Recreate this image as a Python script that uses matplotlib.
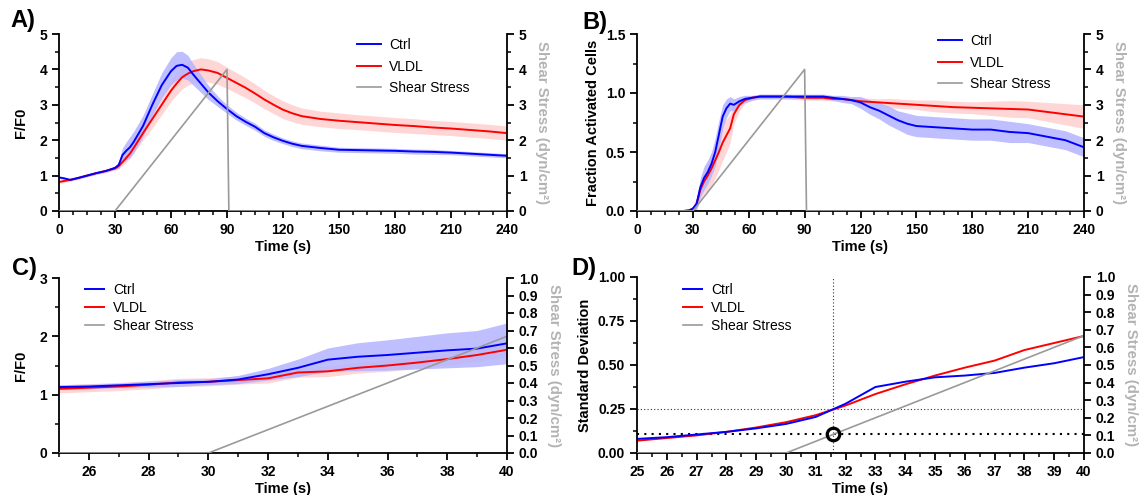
import matplotlib
matplotlib.use("Agg")
import matplotlib.pyplot as plt
import numpy as np
from matplotlib.ticker import MultipleLocator, FixedLocator, FormatStrFormatter

plt.rcParams['font.family'] = ['Liberation Sans', 'DejaVu Sans']
plt.rcParams['font.weight'] = 'bold'
plt.rcParams['axes.labelweight'] = 'bold'

# ---------------- Data ----------------
# Panel A: F/F0 over time
A_time = [0, 3, 6, 10, 15, 20, 25, 30, 32, 34, 36, 38, 40, 45, 50, 55, 60, 63, 66, 69, 72, 76,
          80, 85, 90, 95, 100, 105, 110, 115, 120, 125, 130, 140, 150, 160, 170, 180, 190, 200,
          210, 220, 230, 240]
A_ctrl = [0.95, 0.92, 0.88, 0.93, 1.00, 1.07, 1.13, 1.22, 1.30, 1.58, 1.70, 1.80, 1.95, 2.40,
          3.00, 3.55, 3.95, 4.10, 4.13, 4.05, 3.85, 3.60, 3.35, 3.10, 2.88, 2.68, 2.52, 2.38,
          2.20, 2.08, 1.98, 1.90, 1.84, 1.78, 1.73, 1.72, 1.71, 1.70, 1.68, 1.67, 1.65, 1.62,
          1.59, 1.56]
A_ctrl_err = [0.03, 0.03, 0.03, 0.03, 0.03, 0.03, 0.03, 0.04, 0.10, 0.20, 0.25, 0.30, 0.30,
              0.30, 0.30, 0.35, 0.38, 0.40, 0.38, 0.35, 0.30, 0.25, 0.20, 0.15, 0.12, 0.11,
              0.10, 0.10, 0.09, 0.09, 0.08, 0.08, 0.08, 0.08, 0.07, 0.07, 0.07, 0.07, 0.07,
              0.07, 0.06, 0.06, 0.06, 0.06]
A_vldl = [0.82, 0.85, 0.88, 0.93, 1.00, 1.07, 1.13, 1.20, 1.27, 1.38, 1.50, 1.62, 1.78, 2.20,
          2.60, 3.00, 3.40, 3.60, 3.78, 3.88, 3.95, 4.00, 3.97, 3.90, 3.76, 3.62, 3.48, 3.32,
          3.15, 3.00, 2.86, 2.76, 2.68, 2.60, 2.55, 2.51, 2.47, 2.43, 2.40, 2.36, 2.33, 2.29,
          2.25, 2.20]
A_vldl_err = [0.04, 0.04, 0.04, 0.04, 0.04, 0.04, 0.05, 0.05, 0.07, 0.10, 0.12, 0.13, 0.15,
              0.20, 0.25, 0.28, 0.30, 0.32, 0.33, 0.33, 0.33, 0.33, 0.33, 0.32, 0.30, 0.29,
              0.28, 0.27, 0.26, 0.25, 0.25, 0.24, 0.23, 0.22, 0.22, 0.21, 0.21, 0.21, 0.21,
              0.20, 0.20, 0.20, 0.20, 0.20]

# Panel B: fraction of activated cells
B_time = [0, 10, 20, 25, 28, 30, 32, 34, 36, 38, 40, 42, 44, 46, 48, 50, 52, 55, 58, 62, 66,
          70, 80, 90, 100, 105, 110, 115, 120, 125, 130, 135, 140, 145, 150, 160, 170, 180,
          190, 200, 210, 220, 230, 240]
B_ctrl = [0, 0, 0, 0, 0.005, 0.02, 0.06, 0.20, 0.28, 0.33, 0.40, 0.50, 0.65, 0.80, 0.87,
          0.91, 0.90, 0.93, 0.95, 0.96, 0.97, 0.97, 0.97, 0.97, 0.97, 0.96, 0.95, 0.94, 0.92,
          0.88, 0.85, 0.81, 0.77, 0.74, 0.72, 0.71, 0.70, 0.69, 0.69, 0.67, 0.66, 0.63, 0.60,
          0.54]
B_ctrl_err = [0, 0, 0, 0, 0.005, 0.02, 0.05, 0.08, 0.10, 0.10, 0.10, 0.12, 0.12, 0.10, 0.08,
              0.06, 0.05, 0.04, 0.03, 0.02, 0.02, 0.02, 0.02, 0.02, 0.02, 0.02, 0.03, 0.03,
              0.05, 0.06, 0.07, 0.08, 0.08, 0.09, 0.09, 0.09, 0.09, 0.09, 0.09, 0.09, 0.08,
              0.08, 0.08, 0.08]
B_vldl = [0, 0, 0, 0, 0.005, 0.02, 0.06, 0.18, 0.25, 0.30, 0.36, 0.43, 0.50, 0.58, 0.64,
          0.70, 0.82, 0.90, 0.94, 0.96, 0.97, 0.97, 0.97, 0.96, 0.96, 0.95, 0.95, 0.94, 0.93,
          0.925, 0.92, 0.915, 0.91, 0.905, 0.90, 0.89, 0.88, 0.875, 0.87, 0.865, 0.86, 0.84,
          0.82, 0.80]
B_vldl_err = [0, 0, 0, 0, 0.005, 0.02, 0.05, 0.08, 0.10, 0.12, 0.14, 0.15, 0.15, 0.15, 0.14,
              0.12, 0.08, 0.05, 0.03, 0.02, 0.02, 0.02, 0.02, 0.02, 0.02, 0.02, 0.02, 0.02,
              0.03, 0.03, 0.03, 0.04, 0.04, 0.04, 0.04, 0.05, 0.05, 0.05, 0.06, 0.07, 0.07,
              0.08, 0.09, 0.10]

# Panel C: zoom on F/F0 25-40 s
C_time = [25, 26, 27, 28, 29, 30, 31, 32, 33, 34, 35, 36, 37, 38, 39, 40]
C_ctrl = [1.13, 1.14, 1.16, 1.18, 1.20, 1.22, 1.26, 1.35, 1.46, 1.60, 1.65, 1.68, 1.72, 1.76,
          1.79, 1.88]
C_ctrl_err = [0.04, 0.04, 0.04, 0.05, 0.06, 0.05, 0.07, 0.10, 0.15, 0.20, 0.24, 0.26, 0.28,
              0.30, 0.31, 0.35]
C_vldl = [1.10, 1.12, 1.14, 1.17, 1.21, 1.22, 1.25, 1.28, 1.38, 1.40, 1.46, 1.50, 1.55, 1.61,
          1.68, 1.77]
C_vldl_err = [0.07, 0.07, 0.07, 0.07, 0.07, 0.07, 0.07, 0.08, 0.08, 0.09, 0.09, 0.10, 0.10,
              0.10, 0.11, 0.12]

# Panel D: standard deviation 25-40 s
D_time = [25, 26, 27, 28, 29, 30, 31, 32, 33, 34, 35, 36, 37, 38, 39, 40]
D_ctrl = [0.080, 0.090, 0.105, 0.120, 0.140, 0.165, 0.205, 0.280, 0.375, 0.405, 0.430, 0.440,
          0.455, 0.485, 0.510, 0.545]
D_vldl = [0.070, 0.085, 0.100, 0.120, 0.145, 0.175, 0.215, 0.270, 0.335, 0.390, 0.440, 0.485,
          0.525, 0.585, 0.625, 0.665]

# Shear stress protocol (dyn/cm^2)
shear_time = [0, 30, 90, 91, 240]
shear_val = [0, 0, 4, 0, 0]
shear_zoom_time = [25, 30, 40]
shear_zoom_val = [0, 0, 0.667]

# Threshold markers in panel D
D_cross_time = 31.58
D_cross_sd = 0.25
D_cross_shear = 0.107

labels = ['Ctrl', 'VLDL', 'Shear Stress']

# ---------------- Style ----------------
BLUE = '#0000ff'
RED = '#ff0000'
BLUE_BAND = '#b4b4ff'
RED_BAND = '#ffd6d6'
GRAY = '#9a9a9a'
GRAY_LABEL = '#b3b3b3'

fig = plt.figure(figsize=(11.43, 4.95), dpi=100)
W, H = 1143, 495


def make_axes(l, r, t, b):
    return fig.add_axes([l / W, (H - b) / H, (r - l) / W, (b - t) / H])


def style(ax, ax2):
    for a in (ax, ax2):
        a.spines['top'].set_visible(False)
        for s in a.spines.values():
            s.set_linewidth(1.3)
        a.tick_params(which='major', direction='out', length=5, width=1.3, labelsize=10)
        a.tick_params(which='minor', direction='out', length=3, width=1.1)
    ax.spines['right'].set_visible(False)
    ax2.spines['left'].set_visible(False)
    ax2.spines['bottom'].set_visible(False)
    ax2.set_ylabel('Shear Stress (dyn/cm²)', color=GRAY_LABEL, fontsize=10.8,
                   rotation=270, labelpad=16)


def add_legend(ax, handles, x, y, spacing, hlen):
    ax.legend(handles, labels, loc='upper left', bbox_to_anchor=(x / W, (H - y) / H),
              bbox_transform=fig.transFigure, frameon=False, borderaxespad=0, borderpad=0,
              handlelength=hlen, handletextpad=0.6, labelspacing=spacing,
              prop={'weight': 'normal', 'size': 10})


# ---- Panel A ----
axA = make_axes(59, 507, 34, 211)
axA2 = axA.twinx()
lo = np.array(A_vldl) - np.array(A_vldl_err)
hi = np.array(A_vldl) + np.array(A_vldl_err)
axA.fill_between(A_time, lo, hi, color=RED_BAND, lw=0)
lo = np.array(A_ctrl) - np.array(A_ctrl_err)
hi = np.array(A_ctrl) + np.array(A_ctrl_err)
axA.fill_between(A_time, lo, hi, color=BLUE_BAND, lw=0, alpha=0.85)
h2, = axA.plot(A_time, A_vldl, color=RED, lw=1.4)
h1, = axA.plot(A_time, A_ctrl, color=BLUE, lw=1.4)
h3, = axA2.plot(shear_time, shear_val, color=GRAY, lw=1.2)
axA.set_xlim(0, 240)
axA.set_ylim(0, 5)
axA2.set_ylim(0, 5)
axA.xaxis.set_major_locator(MultipleLocator(30))
axA.xaxis.set_minor_locator(MultipleLocator(7.5))
axA.yaxis.set_major_locator(MultipleLocator(1))
axA.yaxis.set_minor_locator(MultipleLocator(0.5))
axA2.yaxis.set_major_locator(MultipleLocator(1))
axA2.yaxis.set_minor_locator(MultipleLocator(0.5))
axA.set_xlabel('Time (s)', fontsize=10.5, labelpad=2)
axA.set_ylabel('F/F0', fontsize=10.5, labelpad=8)
style(axA, axA2)
add_legend(axA2, [h1, h2, h3], 357, 38, 0.55, 1.7)
fig.text(10 / W, (H - 21) / H, 'A)', fontsize=17, fontweight='bold', va='center')

# ---- Panel B ----
axB = make_axes(637, 1084, 34, 211)
axB2 = axB.twinx()
lo = np.array(B_vldl) - np.array(B_vldl_err)
hi = np.array(B_vldl) + np.array(B_vldl_err)
axB.fill_between(B_time, lo, hi, color=RED_BAND, lw=0)
lo = np.array(B_ctrl) - np.array(B_ctrl_err)
hi = np.array(B_ctrl) + np.array(B_ctrl_err)
axB.fill_between(B_time, lo, hi, color=BLUE_BAND, lw=0, alpha=0.85)
h2, = axB.plot(B_time, B_vldl, color=RED, lw=1.4)
h1, = axB.plot(B_time, B_ctrl, color=BLUE, lw=1.4)
h3, = axB2.plot(shear_time, shear_val, color=GRAY, lw=1.2)
axB.set_xlim(0, 240)
axB.set_ylim(0, 1.5)
axB2.set_ylim(0, 5)
axB.xaxis.set_major_locator(MultipleLocator(30))
axB.xaxis.set_minor_locator(MultipleLocator(7.5))
axB.yaxis.set_major_locator(MultipleLocator(0.5))
axB.yaxis.set_minor_locator(MultipleLocator(0.25))
axB.yaxis.set_major_formatter(FormatStrFormatter('%.1f'))
axB2.yaxis.set_major_locator(MultipleLocator(1))
axB2.yaxis.set_minor_locator(MultipleLocator(0.5))
axB.set_xlabel('Time (s)', fontsize=10.5, labelpad=2)
axB.set_ylabel('Fraction Activated Cells', fontsize=10.5)
style(axB, axB2)
add_legend(axB2, [h1, h2, h3], 938, 34, 0.55, 1.7)
fig.text(582 / W, (H - 23) / H, 'B)', fontsize=17, fontweight='bold', va='center')

# ---- Panel C ----
axC = make_axes(59, 507, 278, 453)
axC2 = axC.twinx()
lo = np.array(C_vldl) - np.array(C_vldl_err)
hi = np.array(C_vldl) + np.array(C_vldl_err)
axC.fill_between(C_time, lo, hi, color=RED_BAND, lw=0)
lo = np.array(C_ctrl) - np.array(C_ctrl_err)
hi = np.array(C_ctrl) + np.array(C_ctrl_err)
axC.fill_between(C_time, lo, hi, color=BLUE_BAND, lw=0, alpha=0.85)
h2, = axC.plot(C_time, C_vldl, color=RED, lw=1.4)
h1, = axC.plot(C_time, C_ctrl, color=BLUE, lw=1.4)
h3, = axC2.plot(shear_zoom_time, shear_zoom_val, color=GRAY, lw=1.2)
axC.set_xlim(25, 40)
axC.set_ylim(0, 3)
axC2.set_ylim(0, 1)
axC.xaxis.set_major_locator(FixedLocator(list(range(26, 41, 2))))
axC.xaxis.set_minor_locator(MultipleLocator(1))
axC.yaxis.set_major_locator(MultipleLocator(1))
axC.yaxis.set_minor_locator(MultipleLocator(0.5))
axC2.yaxis.set_major_locator(MultipleLocator(0.1))
axC2.yaxis.set_major_formatter(FormatStrFormatter('%.1f'))
axC.set_xlabel('Time (s)', fontsize=10.5, labelpad=2)
axC.set_ylabel('F/F0', fontsize=10.5, labelpad=8)
style(axC, axC2)
add_legend(axC2, [h1, h2, h3], 85, 283, 0.3, 1.4)
fig.text(12 / W, (H - 268) / H, 'C)', fontsize=17, fontweight='bold', va='center')

# ---- Panel D ----
axD = make_axes(637, 1084, 277, 453)
axD2 = axD.twinx()
axD.axhline(D_cross_sd, color='#333333', lw=0.8, ls=(0, (1, 2)))
axD.axhline(D_cross_shear, color='black', lw=1.5, ls=(0, (1, 2.5)))
axD.axvline(D_cross_time, color='#333333', lw=0.8, ls=(0, (1, 2)))
h2, = axD.plot(D_time, D_vldl, color=RED, lw=1.4)
h1, = axD.plot(D_time, D_ctrl, color=BLUE, lw=1.4)
h3, = axD2.plot(shear_zoom_time, shear_zoom_val, color=GRAY, lw=1.2)
axD2.plot([D_cross_time], [D_cross_shear], 'o', mfc='none', mec='black', ms=9, mew=2.3)
axD.set_xlim(25, 40)
axD.set_ylim(0, 1)
axD2.set_ylim(0, 1)
axD.xaxis.set_major_locator(MultipleLocator(1))
axD.xaxis.set_minor_locator(MultipleLocator(0.5))
axD.yaxis.set_major_locator(MultipleLocator(0.25))
axD.yaxis.set_minor_locator(MultipleLocator(0.125))
axD.yaxis.set_major_formatter(FormatStrFormatter('%.2f'))
axD2.yaxis.set_major_locator(MultipleLocator(0.1))
axD2.yaxis.set_major_formatter(FormatStrFormatter('%.1f'))
axD.set_xlabel('Time (s)', fontsize=10.5, labelpad=2)
axD.set_ylabel('Standard Deviation', fontsize=10.5)
style(axD, axD2)
add_legend(axD2, [h1, h2, h3], 683, 283, 0.3, 1.4)
fig.text(571 / W, (H - 268) / H, 'D)', fontsize=17, fontweight='bold', va='center')

fig.savefig('out.png', dpi=100)
